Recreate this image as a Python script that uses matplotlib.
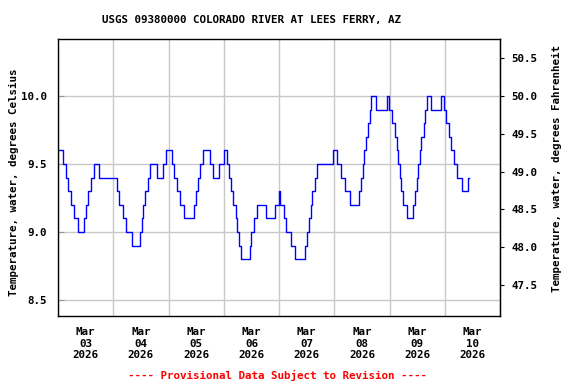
import numpy as np
import pandas as pd
import matplotlib
matplotlib.use("Agg")
import matplotlib.pyplot as plt
import matplotlib.dates as mdates

# hours since 2026-03-03 00:00 where the reading changes, and the new value (deg C)
hours = [0.0, 2.3, 3.3, 4.5, 5.5, 7.1, 8.8, 11.2, 12.2, 13.2, 14.3, 15.8, 18.0,
         25.5, 26.5, 28.1, 29.5, 32.1, 35.5, 36.3, 37.1, 37.8, 39.0, 40.1, 42.8,
         45.5, 46.9, 49.7, 50.6, 51.6, 52.9, 54.9, 59.0, 60.0, 61.0, 61.8, 62.8,
         66.2, 67.3, 70.0, 71.9, 73.2, 74.3, 75.3, 76.2, 77.2, 77.9, 78.8, 79.3,
         83.3, 83.8, 85.0, 86.6, 90.5, 94.4, 96.0, 96.3, 98.3, 99.2, 101.4, 103.1,
         107.5, 108.3, 109.0, 109.7, 110.5, 111.5, 112.4, 119.3, 121.1, 122.9,
         124.8, 126.8, 130.9, 131.6, 132.3, 132.9, 133.7, 134.5, 135.4, 136.1,
         138.1, 142.8, 143.9, 145.2, 146.5, 147.3, 147.8, 148.4, 149.0, 149.7,
         151.8, 154.2, 155.2, 155.8, 156.5, 157.3, 157.8, 158.8, 159.6, 160.4,
         161.9, 166.2, 167.8, 168.7, 169.7, 170.6, 172.0, 173.3, 175.5, 178.0, 178.5]
temps = [9.6, 9.5, 9.4, 9.3, 9.2, 9.1, 9.0, 9.1, 9.2, 9.3, 9.4, 9.5, 9.4,
         9.3, 9.2, 9.1, 9.0, 8.9, 9.0, 9.1, 9.2, 9.3, 9.4, 9.5, 9.4,
         9.5, 9.6, 9.5, 9.4, 9.3, 9.2, 9.1, 9.2, 9.3, 9.4, 9.5, 9.6,
         9.5, 9.4, 9.5, 9.6, 9.5, 9.4, 9.3, 9.2, 9.1, 9.0, 8.9, 8.8,
         8.9, 9.0, 9.1, 9.2, 9.1, 9.2, 9.3, 9.2, 9.1, 9.0, 8.9, 8.8,
         8.9, 9.0, 9.1, 9.2, 9.3, 9.4, 9.5, 9.6, 9.5, 9.4,
         9.3, 9.2, 9.3, 9.4, 9.5, 9.6, 9.7, 9.8, 9.9, 10.0,
         9.9, 10.0, 9.9, 9.8, 9.7, 9.6, 9.5, 9.4, 9.3, 9.2,
         9.1, 9.2, 9.3, 9.4, 9.5, 9.6, 9.7, 9.8, 9.9, 10.0,
         9.9, 10.0, 9.9, 9.8, 9.7, 9.6, 9.5, 9.4, 9.3, 9.4, 9.4]

c_ticks = [8.5, 9.0, 9.5, 10.0]
f_ticks = [47.5, 48.0, 48.5, 49.0, 49.5, 50.0, 50.5]

title = "USGS 09380000 COLORADO RIVER AT LEES FERRY, AZ"
note = "---- Provisional Data Subject to Revision ----"
ylab_c = "Temperature, water, degrees Celsius"
ylab_f = "Temperature, water, degrees Fahrenheit"

start = pd.Timestamp("2026-03-03")
t = start + pd.to_timedelta(hours, unit="h")

fs = 7.8
plt.rcParams["font.family"] = "DejaVu Sans Mono"
plt.rcParams["font.weight"] = "bold"
plt.rcParams["font.size"] = fs

fig = plt.figure(figsize=(5.76, 3.84), dpi=100)
ax = fig.add_axes([58 / 576, 1 - 316 / 384, 442 / 576, 277 / 384])

ax.plot(t, temps, drawstyle="steps-post", color="#0000ff", lw=1.0)

ax.set_xlim(start, start + pd.Timedelta(days=8))
ax.set_ylim(8.382, 10.419)

ax.xaxis.set_major_locator(mdates.DayLocator())
ax.xaxis.set_major_formatter(plt.NullFormatter())
ax.xaxis.set_minor_locator(mdates.HourLocator(byhour=12))
ax.xaxis.set_minor_formatter(mdates.DateFormatter("%b\n%d\n%Y"))
ax.tick_params(axis="x", which="both", length=0, pad=8)
ax.tick_params(axis="x", which="minor", labelsize=fs)
for lab in ax.xaxis.get_minorticklabels():
    lab.set_linespacing(1.2)

ax.set_yticks(c_ticks)
ax.set_yticklabels([f"{v:.1f}" for v in c_ticks])
ax.tick_params(axis="y", direction="in", length=4, color="#999999", pad=8, labelsize=fs)

ax.grid(True, which="major", color="#c8c8c8", lw=1.0)
ax.set_axisbelow(True)
for s in ax.spines.values():
    s.set_linewidth(1.0)
    s.set_color("black")

sec = ax.secondary_yaxis("right", functions=(lambda c: c * 1.8 + 32, lambda f: (f - 32) / 1.8))
sec.set_yticks(f_ticks)
sec.set_yticklabels([f"{v:.1f}" for v in f_ticks])
sec.tick_params(direction="out", length=3, pad=5, labelsize=fs)

fig.text(14 / 576, 1 - 182 / 384, ylab_c, rotation=90, ha="center", va="center", fontsize=fs)
fig.text(557 / 576, 1 - 168 / 384, ylab_f, rotation=90, ha="center", va="center", fontsize=fs)
fig.text(251 / 576, 1 - 20 / 384, title, ha="center", va="center", fontsize=fs)
fig.text(277 / 576, 1 - 375 / 384, note, ha="center", va="center", fontsize=fs, color="red")

fig.savefig("out.png", dpi=100)
